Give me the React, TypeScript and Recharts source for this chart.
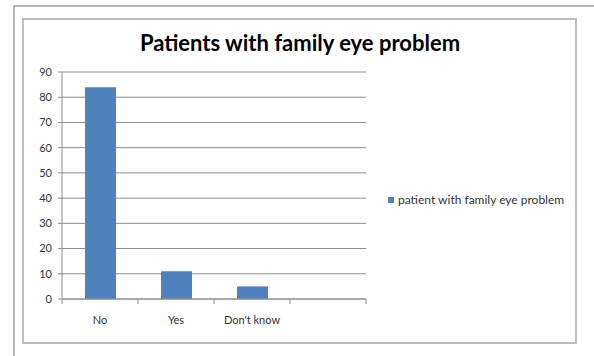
import React from 'react';
import { BarChart, Bar, XAxis, YAxis, CartesianGrid } from 'recharts';

const categories = ['No', 'Yes', "Don't know", ''];
const counts: (number | null)[] = [84, 11, 5, null];
const yTicks = [0, 10, 20, 30, 40, 50, 60, 70, 80, 90];
const seriesName = 'patient with family eye problem';
const title = 'Patients with family eye problem';

const data = categories.map((c, i) => ({ name: c, value: counts[i] }));

const FONT = 'Lato, "Open Sans", sans-serif';
const SLOT = 76; // width of one category band

// category label plus Excel-style tick marks on the band edges
const CategoryTick = (props: any) => {
  const { x, y, payload, index } = props;
  const last = index === categories.length - 1;
  return (
    <g>
      <line x1={x - SLOT / 2} x2={x - SLOT / 2} y1={y} y2={y + 5} stroke="#8c8c8c" />
      {last && <line x1={x + SLOT / 2} x2={x + SLOT / 2} y1={y} y2={y + 5} stroke="#8c8c8c" />}
      <text x={x} y={y + 25} textAnchor="middle" fontSize={11} fill="#333" fontFamily={FONT}>
        {payload.value}
      </text>
    </g>
  );
};

export default function App() {
  return (
    <div style={{ position: 'absolute', left: 0, top: 0, width: 594, height: 356, background: '#fff', overflow: 'hidden' }}>
      <div style={{ position: 'absolute', left: 13, top: 5, width: 600, height: 400, borderLeft: '2px solid #b4b4b4', borderTop: '2px solid #b4b4b4' }} />
      <div style={{ position: 'absolute', left: 22, top: 18, width: 551, height: 322, border: '2px solid #bdbdbd' }} />
      <div style={{ position: 'absolute', left: 0, top: 29, width: 600, textAlign: 'center', fontFamily: FONT, fontWeight: 700, fontSize: 22, color: '#000' }}>
        {title}
      </div>
      <div style={{ position: 'absolute', left: 388, top: 192, display: 'flex', alignItems: 'center', fontFamily: FONT, fontSize: 12, color: '#333' }}>
        <span style={{ width: 6, height: 6, background: '#4f81bd', marginRight: 4, display: 'inline-block' }} />
        {seriesName}
      </div>
      <div style={{ position: 'absolute', left: 0, top: 0 }}>
        <BarChart width={594} height={356} data={data} margin={{ top: 72, right: 228, bottom: 27, left: 0 }}>
          <CartesianGrid vertical={false} stroke="#8c8c8c" />
          <XAxis
            dataKey="name"
            height={30}
            axisLine={{ stroke: '#8c8c8c' }}
            tickLine={false}
            tickSize={0}
            tickMargin={0}
            tick={<CategoryTick />}
            interval={0}
          />
          <YAxis
            width={62}
            domain={[0, 90]}
            ticks={yTicks}
            axisLine={{ stroke: '#8c8c8c' }}
            tickLine={{ stroke: '#8c8c8c' }}
            tickSize={4}
            tickMargin={6}
            tick={{ fontSize: 11, fill: '#333', fontFamily: FONT }}
          />
          <Bar dataKey="value" name={seriesName} fill="#4f81bd" barSize={31} isAnimationActive={false} />
        </BarChart>
      </div>
    </div>
  );
}
